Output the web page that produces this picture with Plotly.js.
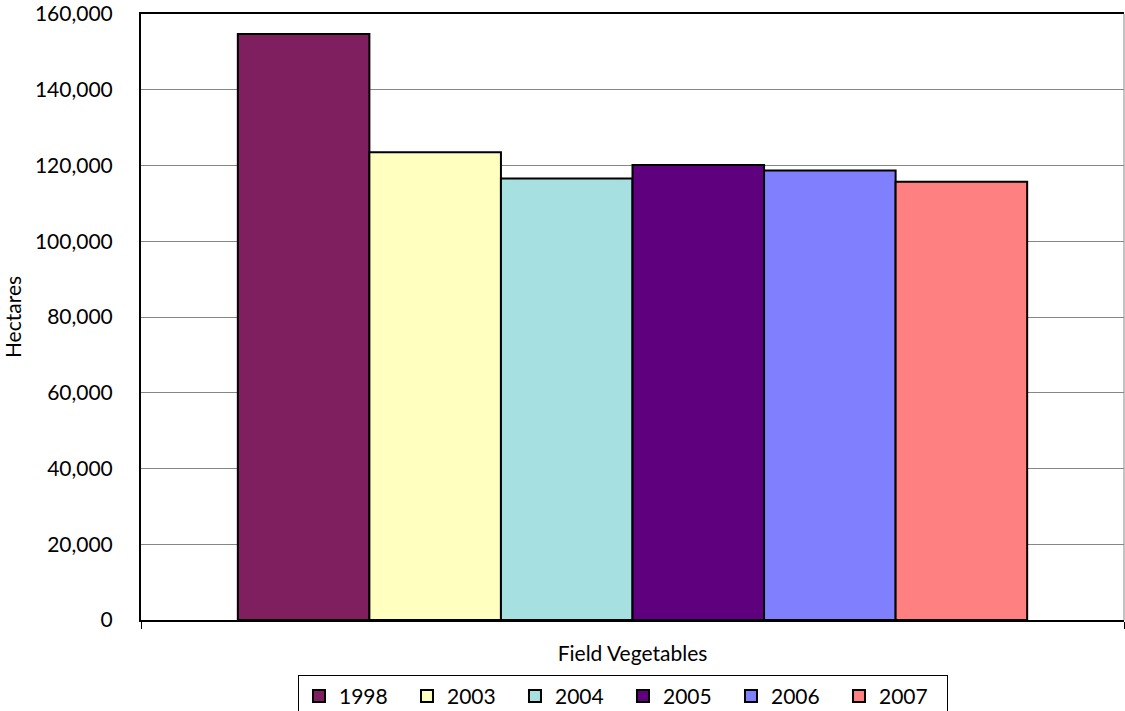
<!DOCTYPE html>
<html>
<head>
<meta charset="utf-8">
<script src="https://cdn.plot.ly/plotly-3.0.1.min.js"></script>
<style>html,body{margin:0;padding:0;background:#fff;}#chart{width:1125px;height:711px;}</style>
</head>
<body>
<div id="chart"></div>
<script>
const categories = ["Field Vegetables"];
const seriesNames = ["1998", "2003", "2004", "2005", "2006", "2007"];
const values1998 = [154700];
const values2003 = [123500];
const values2004 = [116600];
const values2005 = [120100];
const values2006 = [118700];
const values2007 = [115700];
const seriesColors = ["#7f1f5f", "#ffffc0", "#a6e0e0", "#5f007f", "#8080ff", "#ff8080"];
const yTickValues = [0, 20000, 40000, 60000, 80000, 100000, 120000, 140000, 160000];
const yTickLabels = ["0", "20,000", "40,000", "60,000", "80,000", "100,000", "120,000", "140,000", "160,000"];

const allValues = [values1998, values2003, values2004, values2005, values2006, values2007];
const FONT = "Lato, 'Open Sans', sans-serif";

const traces = seriesNames.map((name, i) => ({
  type: "bar",
  name: name,
  x: categories,
  y: allValues[i],
  marker: {color: seriesColors[i], line: {color: "#000", width: 2}},
  hoverinfo: "name+y"
}));

const layout = {
  width: 1125, height: 711,
  margin: {l: 141, r: 1, t: 14, b: 91, pad: 0, autoexpand: false},
  paper_bgcolor: "#fff", plot_bgcolor: "#fff",
  font: {family: FONT, size: 21, color: "#000"},
  barmode: "group", bargap: 0.197, bargroupgap: 0,
  showlegend: true,
  legend: {
    orientation: "h", x: 0.1597, xanchor: "left", y: -0.0907, yanchor: "top",
    bordercolor: "#000", borderwidth: 1, bgcolor: "#fff",
    font: {family: FONT, size: 21, color: "#000"},
    entrywidth: 63, entrywidthmode: "pixels", itemwidth: 30,
    traceorder: "normal"
  },
  xaxis: {
    type: "category", showline: true, linecolor: "#000", linewidth: 2, mirror: true,
    ticks: "outside", tickson: "boundaries", ticklen: 7, tickcolor: "#000", tickwidth: 1,
    ticklabelstandoff: 14, showgrid: false, zeroline: false,
    tickfont: {family: FONT, size: 21, color: "#000"}
  },
  yaxis: {
    range: [0, 160000], tickvals: yTickValues, ticktext: yTickLabels,
    showline: true, linecolor: "#000", linewidth: 2, mirror: false,
    ticks: "", showgrid: true, gridcolor: "#868686", gridwidth: 1, zeroline: false,
    ticklabelstandoff: 22,
    tickfont: {family: FONT, size: 21, color: "#000"},
    title: {text: "Hectares", font: {family: FONT, size: 21, color: "#000"}, standoff: 20}
  },
  shapes: [{type: "line", xref: "paper", yref: "paper", x0: 1, x1: 1, y0: 0, y1: 1,
            line: {color: "#868686", width: 1}}]
};

Plotly.newPlot("chart", traces, layout, {displayModeBar: false, staticPlot: true});
</script>
</body>
</html>
